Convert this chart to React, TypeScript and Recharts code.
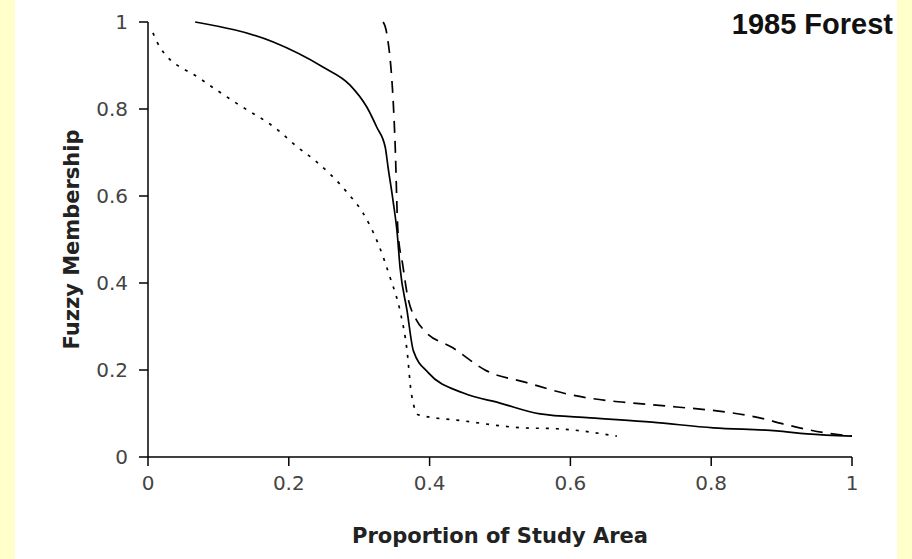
import React from "react";
import { LineChart, Line, XAxis, YAxis } from "recharts";

const solidX = [0.067, 0.178, 0.249, 0.287, 0.311, 0.325, 0.337, 0.341, 0.348, 0.354, 0.358, 0.368, 0.377, 0.398, 0.448, 0.5, 0.557, 0.628, 0.716, 0.803, 0.893, 0.936, 1.0];
const solidY = [1, 0.954, 0.896, 0.855, 0.804, 0.758, 0.712, 0.666, 0.59, 0.514, 0.436, 0.336, 0.244, 0.194, 0.147, 0.124, 0.099, 0.09, 0.08, 0.067, 0.06, 0.053, 0.048];

const dashedX = [0.334, 0.339, 0.351, 0.355, 0.362, 0.368, 0.382, 0.393, 0.433, 0.481, 0.538, 0.595, 0.656, 0.689, 0.751, 0.808, 0.869, 0.902, 0.964, 1.0];
const dashedY = [1, 0.975, 0.72, 0.52, 0.44, 0.376, 0.313, 0.29, 0.251, 0.198, 0.171, 0.145, 0.129, 0.124, 0.115, 0.106, 0.09, 0.076, 0.055, 0.048];

const dottedX = [0.007, 0.017, 0.074, 0.126, 0.185, 0.211, 0.237, 0.284, 0.305, 0.327, 0.344, 0.358, 0.368, 0.374, 0.384, 0.448, 0.533, 0.581, 0.666];
const dottedY = [0.975, 0.942, 0.87, 0.813, 0.751, 0.714, 0.682, 0.606, 0.562, 0.49, 0.412, 0.336, 0.244, 0.147, 0.097, 0.083, 0.067, 0.065, 0.048];

const xTicks = [0, 0.2, 0.4, 0.6, 0.8, 1];
const yTicks = [0, 0.2, 0.4, 0.6, 0.8, 1];

const title = "1985 Forest";
const xTitle = "Proportion of Study Area";
const yTitle = "Fuzzy Membership";

const toPoints = (xs: number[], ys: number[]) => xs.map((x, i) => ({ x, y: ys[i] }));
const solid = toPoints(solidX, solidY);
const dashed = toPoints(dashedX, dashedY);
const dotted = toPoints(dottedX, dottedY);

const FONT = "'DejaVu Sans', Verdana, sans-serif";
const TITLE_FONT = "'Liberation Sans', Arial, sans-serif";
const tickStyle = { fontSize: 20, fill: "#444", fontFamily: FONT };
const axisTitleStyle = { fontSize: 21, fontWeight: "bold", fill: "#222", fontFamily: FONT };

export default function App() {
  return (
    <div style={{ position: "absolute", left: 0, top: 0, width: 912, height: 559, background: "#FFFFCC" }}>
      <div style={{ position: "absolute", left: 15, top: 0, width: 882, height: 559, background: "#FFFFFF" }} />
      <div style={{ position: "absolute", left: 0, top: 0 }}>
        <LineChart width={912} height={559} margin={{ top: 22, right: 60, left: 58, bottom: 2 }}>
          <XAxis
            type="number"
            dataKey="x"
            domain={[0, 1]}
            ticks={xTicks}
            allowDuplicatedCategory={false}
            height={100}
            tickSize={9}
            tickMargin={10}
            stroke="#000"
            strokeWidth={1.5}
            tick={tickStyle}
            tickFormatter={(v: number) => String(v)}
            label={{ value: xTitle, position: "insideBottom", offset: 14, style: axisTitleStyle }}
          />
          <YAxis
            type="number"
            dataKey="y"
            domain={[0, 1]}
            ticks={yTicks}
            width={90}
            tickSize={9}
            tickMargin={11}
            stroke="#000"
            strokeWidth={1.5}
            tick={tickStyle}
            tickFormatter={(v: number) => String(v)}
            label={{ value: yTitle, angle: -90, position: "insideLeft", offset: 14, style: { ...axisTitleStyle, textAnchor: "middle" } }}
          />
          <Line data={solid} dataKey="y" type="monotoneX" stroke="#000" strokeWidth={1.7} dot={false} isAnimationActive={false} />
          <Line data={dashed} dataKey="y" type="monotoneX" stroke="#000" strokeWidth={1.7} strokeDasharray="12 8" dot={false} isAnimationActive={false} />
          <Line data={dotted} dataKey="y" type="monotoneX" stroke="#000" strokeWidth={1.7} strokeDasharray="3 7" dot={false} isAnimationActive={false} />
        </LineChart>
      </div>
      <div style={{ position: "absolute", right: 19, top: 8, fontFamily: TITLE_FONT, fontWeight: "bold", fontSize: 29, color: "#111" }}>{title}</div>
    </div>
  );
}
